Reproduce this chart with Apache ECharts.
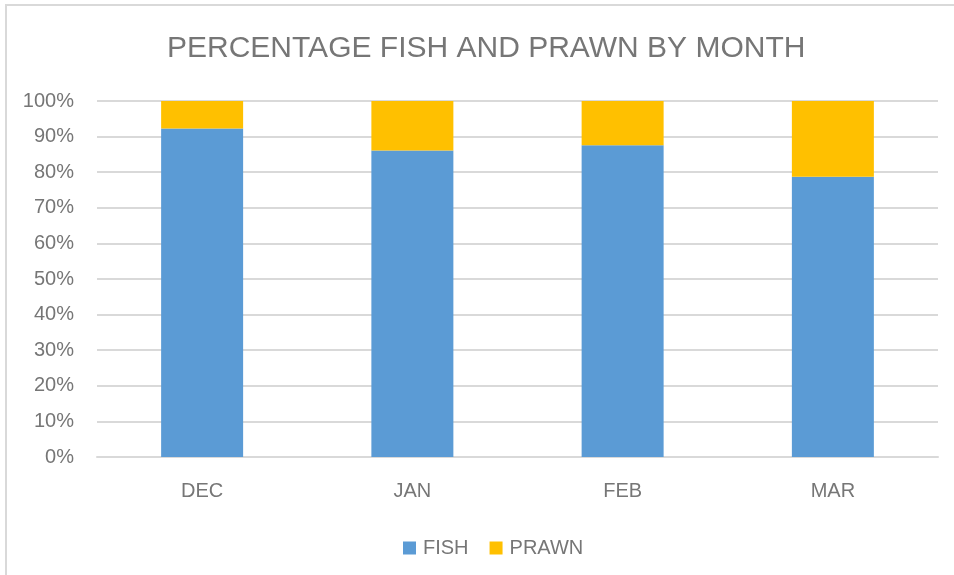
<!DOCTYPE html>
<html>
<head>
<meta charset="utf-8">
<script src="https://cdn.jsdelivr.net/npm/echarts@6/dist/echarts.min.js"></script>
<style>
  html, body { margin: 0; padding: 0; background: #ffffff; }
  #chart { width: 954px; height: 575px; }
</style>
</head>
<body>
<div id="chart"></div>
<script>
// Monthly catch composition, in percent of the total
const months = ['DEC', 'JAN', 'FEB', 'MAR'];
const fishPct = [92.3, 86.1, 87.6, 78.7];
const prawnPct = [7.7, 13.9, 12.4, 21.3];

const textGrey = '#767676';
const font = '"Liberation Sans", Arial, sans-serif';

const chart = echarts.init(document.getElementById('chart'));
chart.setOption({
  animation: false,
  backgroundColor: '#ffffff',
  title: {
    text: 'PERCENTAGE FISH AND PRAWN BY MONTH',
    left: 162,
    top: 29,
    textStyle: { color: textGrey, fontFamily: font, fontSize: 30, fontWeight: 'normal' }
  },
  graphic: [{
    type: 'rect',
    shape: { x: 6, y: 5, width: 980, height: 600 },
    style: { fill: 'none', stroke: '#d9d9d9', lineWidth: 2 },
    silent: true
  }],
  legend: {
    data: ['FISH', 'PRAWN'],
    left: 398,
    top: 533,
    icon: 'rect',
    itemWidth: 13,
    itemHeight: 13,
    itemGap: 21,
    textStyle: { color: textGrey, fontFamily: font, fontSize: 20, padding: [0, 0, 0, 2] }
  },
  grid: { left: 97, right: 16, top: 101, bottom: 118 },
  xAxis: {
    type: 'category',
    data: months,
    axisLine: { lineStyle: { color: '#d9d9d9', width: 2 } },
    axisTick: { show: false },
    axisLabel: { color: textGrey, fontFamily: font, fontSize: 20, margin: 24 }
  },
  yAxis: {
    type: 'value',
    min: 0,
    max: 100,
    interval: 10,
    axisLine: { show: false },
    axisTick: { show: false },
    splitLine: { lineStyle: { color: '#d9d9d9', width: 2 } },
    axisLabel: { color: textGrey, fontFamily: font, fontSize: 20, margin: 23, formatter: '{value}%' }
  },
  series: [
    {
      name: 'FISH',
      type: 'bar',
      stack: 'total',
      data: fishPct,
      barWidth: '39%',
      itemStyle: { color: '#5B9BD5' }
    },
    {
      name: 'PRAWN',
      type: 'bar',
      stack: 'total',
      data: prawnPct,
      barWidth: '39%',
      itemStyle: { color: '#FFC000' }
    }
  ]
});
</script>
</body>
</html>
